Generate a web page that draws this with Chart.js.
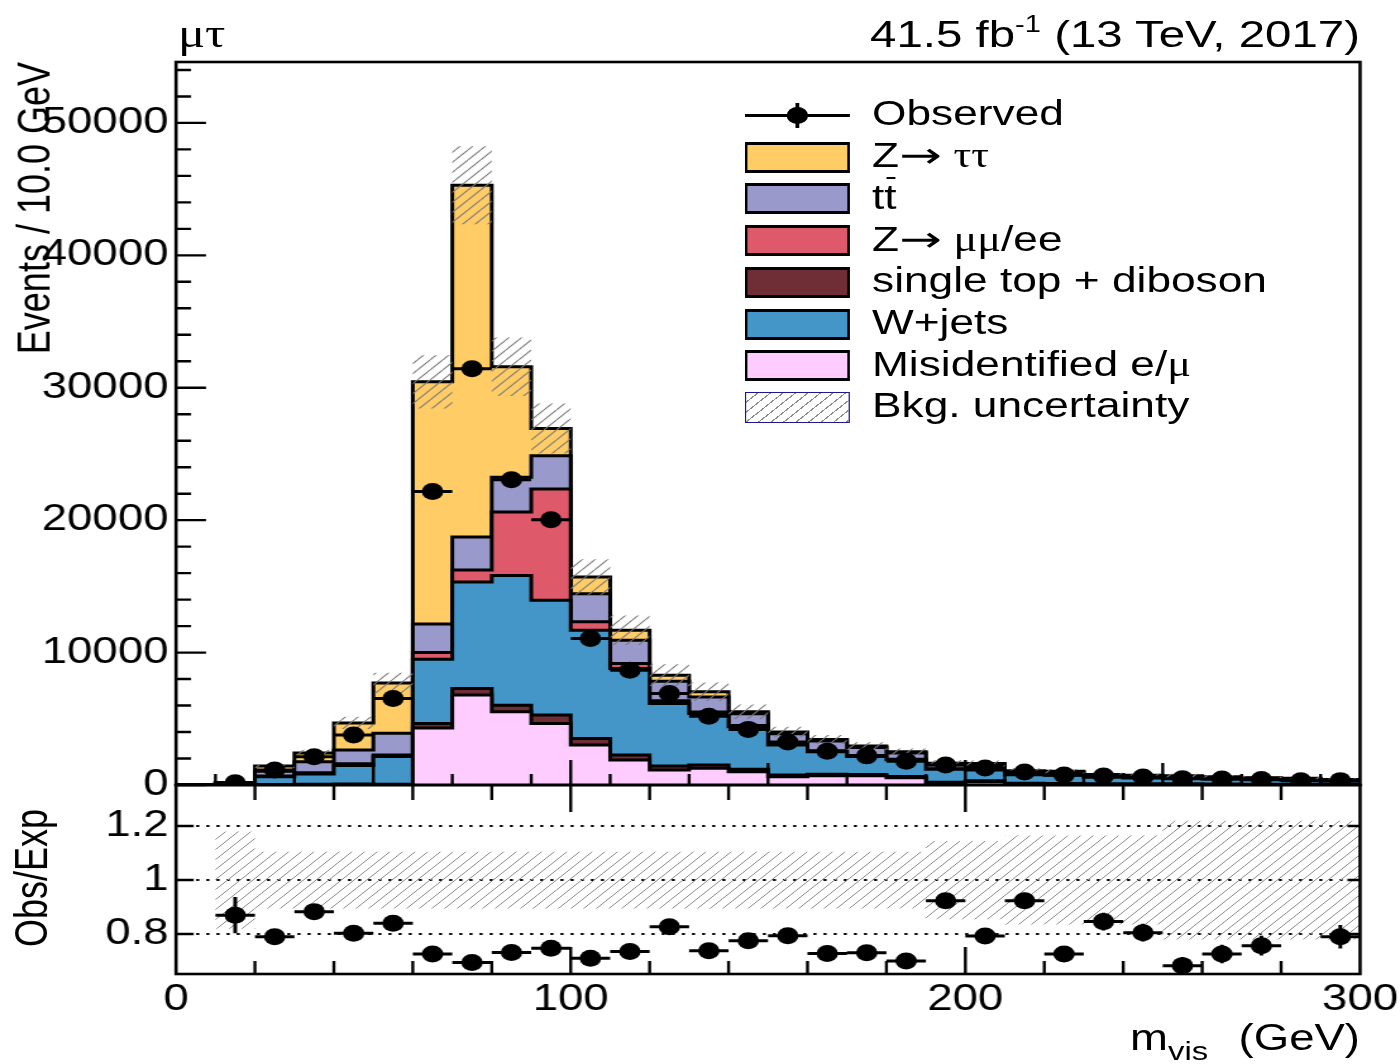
<!DOCTYPE html>
<html>
<head>
<meta charset="utf-8">
<script src="https://cdn.jsdelivr.net/npm/chart.js@4.4.1/dist/chart.umd.min.js"></script>
<style>
html,body{margin:0;padding:0;background:#fff;}
body{width:1400px;height:1064px;overflow:hidden;position:relative;}
#stage{position:absolute;left:0;top:0;width:1107px;height:1064px;transform:scaleX(1.26468);transform-origin:0 0;font-family:"Liberation Sans",Arial,Helvetica,sans-serif;color:#000;}
canvas{position:absolute;left:0;}
.t{position:absolute;white-space:nowrap;line-height:1;font-size:36px;}
.g{font-family:"Liberation Serif","DejaVu Serif",serif;}
.ar{font-family:"DejaVu Sans",sans-serif;display:inline-block;transform:scaleX(1.15);transform-origin:0 50%;margin-right:4px;}
.box{position:absolute;left:589.1px;width:83px;height:31px;box-sizing:border-box;border-style:solid;border-color:#000;border-width:3px 2.6px;}
.lt{position:absolute;left:689.5px;font-size:35px;line-height:1;white-space:nowrap;}
</style>
</head>
<body>
<div id="stage">
  <canvas id="mainC" width="1107" height="830" style="top:0"></canvas>
  <canvas id="ratioC" width="1107" height="294" style="top:770px"></canvas>

  <div class="t g" style="left:140.7px;top:13.5px;font-size:40px;">μτ</div>
  <div class="t" style="left:0;width:1075.4px;text-align:right;top:16.3px;font-size:37.5px;">41.5 fb<span style="font-size:23px;position:relative;top:-15px;">-1</span> (13 TeV, 2017)</div>
  <div class="t" style="left:9px;top:462px;width:400px;text-align:right;transform:rotate(-90deg);transform-origin:0 0;">Events / 10.0 GeV</div>
  <div class="t" style="left:7px;top:1078px;width:400px;text-align:center;transform:rotate(-90deg);transform-origin:0 0;">Obs/Exp</div>
  <div class="t" style="left:0;width:1075.4px;text-align:right;top:1019.5px;">m<span style="font-size:26px;position:relative;top:10px;">vis</span><span style="margin-left:24px;">(GeV)</span></div>

  <!-- legend -->
  <div style="position:absolute;left:589.1px;top:114px;width:83px;height:3px;background:#000;"></div>
  <div style="position:absolute;left:629.4px;top:103px;width:2.4px;height:25px;background:#000;"></div>
  <div style="position:absolute;left:622.1px;top:107px;width:17px;height:17px;border-radius:50%;background:#000;"></div>
  <div class="lt" style="top:95.4px;">Observed</div>

  <div class="box" style="top:141.7px;background:#ffcc66;"></div>
  <div class="lt" style="top:137.1px;">Z<span class="ar">→</span> <span class="g">ττ</span></div>
  <div class="box" style="top:183.4px;background:#9999cc;"></div>
  <div class="lt" style="top:178.8px;">t<span style="position:relative;">t<span style="position:absolute;left:2px;top:0px;width:6.6px;height:2.4px;background:#000;"></span></span></div>
  <div class="box" style="top:225.1px;background:#de5a6a;"></div>
  <div class="lt" style="top:220.5px;">Z<span class="ar">→</span> <span class="g">μμ</span>/ee</div>
  <div class="box" style="top:266.8px;background:#6f2d35;"></div>
  <div class="lt" style="top:262.2px;">single top + diboson</div>
  <div class="box" style="top:308.5px;background:#4496c8;"></div>
  <div class="lt" style="top:303.9px;">W+jets</div>
  <div class="box" style="top:350.2px;background:#ffccff;"></div>
  <div class="lt" style="top:345.6px;">Misidentified e/<span class="g">μ</span></div>
  <div class="box" style="top:391.9px;border-width:1.5px 1.2px;border-color:#1a1a8c;background:repeating-linear-gradient(135deg,transparent 0 6px,#8c8c8c 6px 7px);"></div>
  <div class="lt" style="top:387.3px;">Bkg. uncertainty</div>
</div>

<script>
// ---------------- data ----------------
const binEdges = [0,10,20,30,40,50,60,70,80,90,100,110,120,130,140,150,160,170,180,190,200,210,220,230,240,250,260,270,280,290,300];

const misid   = [0,0,0,0,0,0,4300,6790,5530,4650,3020,1885,1130,1260,1000,630,700,700,550,120,250,60,50,40,40,35,30,25,22,20];
const diboson = [0,10,30,50,80,60,350,500,500,630,500,375,300,250,180,130,120,100,90,80,80,70,70,60,55,50,45,40,36,30];
const wjets   = [0,120,600,780,1400,2100,4850,8040,9800,8670,8170,6540,4730,3890,3220,2260,1690,1360,1260,980,800,650,620,480,440,410,370,335,310,255];
const zll     = [0,10,50,100,120,100,500,900,4780,8410,630,380,200,120,100,80,70,60,50,40,30,20,20,15,15,15,12,10,10,8];
const ttbar   = [0,25,350,830,1050,1650,2150,2500,2640,2510,2130,1760,1480,1130,880,770,750,620,460,300,300,200,190,150,140,130,118,105,95,77];
const ztt     = [0,30,400,660,2040,3790,18300,26570,8340,2050,1260,750,450,390,150,130,110,100,100,120,160,80,80,55,55,50,45,40,37,30];

const observed = [null,170,1130,2135,3770,6540,22170,31440,23050,20030,11060,8670,6910,5200,4200,3250,2550,2200,1800,1510,1280,980,750,680,600,470,450,420,320,330];
const ratioObs = [null,0.870,0.790,0.883,0.803,0.840,0.726,0.695,0.732,0.747,0.710,0.735,0.827,0.738,0.775,0.794,0.728,0.731,0.700,0.923,0.793,0.923,0.726,0.846,0.805,0.683,0.726,0.757,null,0.790];

const mainUnc  = [0,0.18,0.10,0.10,0.10,0.10,0.066,0.065,0.07,0.07,0.085,0.095,0.10,0.10,0.10,0.10,0.10,0.10,0.10,0.145,0.145,0.165,0.165,0.165,0.165,0.22,0.22,0.22,0.22,0.22];
const ratioUnc = [null,0.18,0.105,0.105,0.105,0.105,0.105,0.105,0.105,0.105,0.105,0.105,0.105,0.105,0.105,0.105,0.105,0.105,0.105,0.145,0.145,0.165,0.165,0.165,0.165,0.22,0.22,0.22,0.22,0.22];

const yTicksMain  = [0,10000,20000,30000,40000,50000];
const yTicksRatio = [0.8,1,1.2];
const xTicksRatio = [0,100,200,300];

const layerNames  = ['Misidentified e/μ','single top + diboson','W+jets','Z→ μμ/ee','tt̄','Z→ ττ'];
const layerColors = ['#ffccff','#6f2d35','#4496c8','#de5a6a','#9999cc','#ffcc66'];

// ---------------- helpers ----------------
const layers = [misid, diboson, wjets, zll, ttbar, ztt];
const cum = [];
let run = new Array(misid.length).fill(0);
layers.forEach(l => { run = run.map((v, i) => v + l[i]); cum.push(run); });
const total = cum[cum.length - 1];

const step = vals => binEdges.map((x, i) => ({ x, y: vals[Math.min(i, vals.length - 1)] }));
const centers = binEdges.slice(0, -1).map((e, i) => (e + binEdges[i + 1]) / 2);

function hBars(vals) {
  const d = [];
  vals.forEach((v, i) => { if (v == null) return; d.push({x: binEdges[i], y: v}, {x: binEdges[i+1], y: v}, {x: binEdges[i+1], y: null}); });
  return d;
}
function vBars(vals, errs) {
  const d = [];
  vals.forEach((v, i) => { if (v == null) return; const c = centers[i], e = errs[i]; d.push({x: c, y: v - e}, {x: c, y: v + e}, {x: c, y: null}); });
  return d;
}
function makeHatch(ctx, color, size, lw) {
  const c = document.createElement('canvas'); c.width = size; c.height = size;
  const g = c.getContext('2d'); g.strokeStyle = color; g.lineWidth = lw; g.beginPath();
  for (const o of [-size, 0, size]) { g.moveTo(o, size); g.lineTo(o + size, 0); }
  g.stroke();
  return ctx.createPattern(c, 'repeat');
}
function axesPlugin(specs, dotted) {
  function drawSet(chart, list) {
    const ctx = chart.ctx, ca = chart.chartArea, xs = chart.scales.x, ys = chart.scales.y;
    ctx.save(); ctx.strokeStyle = '#000'; ctx.lineWidth = 2.4; ctx.beginPath();
    for (const s of list) {
      s.values.forEach((v, k) => {
        const L = s.lens[k];
        if (s.side === 'bottom') { const p = xs.getPixelForValue(v); ctx.moveTo(p, ca.bottom); ctx.lineTo(p, ca.bottom - L); }
        if (s.side === 'top') { const p = xs.getPixelForValue(v); ctx.moveTo(p, ca.top); ctx.lineTo(p, ca.top + L); }
        if (s.side === 'left') { const p = ys.getPixelForValue(v); ctx.moveTo(ca.left, p); ctx.lineTo(ca.left + L, p); }
        if (s.side === 'right') { const p = ys.getPixelForValue(v); ctx.moveTo(ca.right, p); ctx.lineTo(ca.right - L, p); }
      });
    }
    ctx.stroke(); ctx.restore();
  }
  return {
    id: 'rootAxes',
    beforeDatasetsDraw(chart) {
      if (dotted) {
        const ctx = chart.ctx, ca = chart.chartArea, ys = chart.scales.y;
        ctx.save(); ctx.strokeStyle = '#000'; ctx.lineWidth = 2; ctx.setLineDash([2.4, 5.6]); ctx.beginPath();
        dotted.forEach(v => { const p = ys.getPixelForValue(v); ctx.moveTo(ca.left, p); ctx.lineTo(ca.right, p); });
        ctx.stroke(); ctx.restore();
      }
      drawSet(chart, specs.under || []);
    },
    afterDatasetsDraw(chart) {
      drawSet(chart, specs.over || []);
      const ctx = chart.ctx, ca = chart.chartArea;
      ctx.save(); ctx.strokeStyle = '#000'; ctx.lineWidth = 2.6;
      ctx.strokeRect(ca.left, ca.top, ca.right - ca.left, ca.bottom - ca.top); ctx.restore();
    }
  };
}
const range = (a, b, s) => { const r = []; for (let v = a; v <= b + 1e-9; v += s) r.push(Math.round(v * 1000) / 1000); return r; };
const fixY = w => s => { s.width = w; s.paddingTop = 0; s.paddingBottom = 0; };
const fixX = h => s => { s.height = h; s.paddingLeft = 0; s.paddingRight = 0; };

Chart.defaults.font.family = '"Liberation Sans", Arial, Helvetica, sans-serif';
Chart.defaults.color = '#000';

// ---------------- main panel ----------------
const mainCtx = document.getElementById('mainC').getContext('2d');
const hatchMain = makeHatch(mainCtx, '#7a7a7a', 10, 1.1);

const mainDatasets = [];
for (let k = cum.length - 1; k >= 0; k--) {
  mainDatasets.push({
    label: layerNames[k], data: step(cum[k]), stepped: true, fill: 'origin',
    backgroundColor: layerColors[k], borderColor: '#000', borderWidth: 3,
    pointRadius: 0, order: 10 + k
  });
}
const upIdx = mainDatasets.length;
mainDatasets.push({ label: 'unc up', data: step(total.map((t, i) => t * (1 + mainUnc[i]))), stepped: true,
  fill: upIdx + 1, backgroundColor: hatchMain, borderWidth: 0, borderColor: 'rgba(0,0,0,0)', pointRadius: 0, order: 5 });
mainDatasets.push({ label: 'unc dn', data: step(total.map((t, i) => t * (1 - mainUnc[i]))), stepped: true,
  fill: false, borderWidth: 0, borderColor: 'rgba(0,0,0,0)', pointRadius: 0, order: 5 });
mainDatasets.push({ label: 'obs xerr', data: hBars(observed), spanGaps: false, borderColor: '#000', borderWidth: 3, pointRadius: 0, fill: false, order: 2 });
mainDatasets.push({ label: 'obs yerr', data: vBars(observed, observed.map(v => v == null ? 0 : Math.sqrt(v))), spanGaps: false, borderColor: '#000', borderWidth: 3, pointRadius: 0, fill: false, order: 2 });
mainDatasets.push({ label: 'Observed', data: observed.map((v, i) => ({x: centers[i], y: v})), showLine: false,
  pointRadius: 8.5, pointBackgroundColor: '#000', pointBorderWidth: 0, order: 1 });

const xMinorMain = range(10, 290, 20).concat([50, 150, 250, 100, 200]);
const xMinorLens = xMinorMain.map(v => v % 100 === 0 ? 25 : (v % 50 === 0 ? 22 : 11));
const yMain = range(0, 54000, 2000);

new Chart(mainCtx, {
  type: 'line',
  data: { datasets: mainDatasets },
  options: {
    responsive: false, animation: false, devicePixelRatio: 1,
    layout: { padding: { left: 0, right: 31.6, top: 62, bottom: 0 } },
    plugins: { legend: { display: false }, tooltip: { enabled: false } },
    scales: {
      x: { type: 'linear', min: 0, max: 300, grid: { display: false, drawTicks: false }, border: { display: false },
           ticks: { display: false }, afterFit: fixX(45) },
      y: { type: 'linear', min: 0, max: 54600, grid: { display: false, drawTicks: false }, border: { display: false },
           afterBuildTicks: s => { s.ticks = yTicksMain.map(v => ({ value: v })); },
           ticks: { font: { size: 36 }, padding: 6, callback: v => String(v) },
           afterFit: fixY(139.17) }
    }
  },
  plugins: [axesPlugin({
    over: [
      { side: 'bottom', values: xMinorMain, lens: xMinorLens },
      { side: 'left', values: yMain, lens: yMain.map(v => v % 10000 === 0 ? 23.7 : 11.9) }
    ]
  }, null)]
});

// ---------------- ratio panel ----------------
const ratioCtx = document.getElementById('ratioC').getContext('2d');
const hatchRatio = makeHatch(ratioCtx, '#8c8c8c', 10, 1.0);
const rx = range(20, 280, 20);
const ratioDatasets = [
  { label: 'band up', data: step(ratioUnc.map(u => u == null ? 1 : 1 + u)), stepped: true, fill: 1,
    backgroundColor: hatchRatio, borderWidth: 0, borderColor: 'rgba(0,0,0,0)', pointRadius: 0, order: 5 },
  { label: 'band dn', data: step(ratioUnc.map(u => u == null ? 1 : 1 - u)), stepped: true, fill: false,
    borderWidth: 0, borderColor: 'rgba(0,0,0,0)', pointRadius: 0, order: 5 },
  { label: 'ratio xerr', data: hBars(ratioObs), spanGaps: false, borderColor: '#000', borderWidth: 3, pointRadius: 0, fill: false, order: 2 },
  { label: 'ratio yerr', data: vBars(ratioObs, ratioObs.map((r, i) => (r == null || observed[i] == null) ? 0 : r / Math.sqrt(observed[i]))),
    spanGaps: false, borderColor: '#000', borderWidth: 3, pointRadius: 0, fill: false, order: 2 },
  { label: 'ratio', data: ratioObs.map((v, i) => ({x: centers[i], y: v})), showLine: false,
    pointRadius: 8.5, pointBackgroundColor: '#000', pointBorderWidth: 0, order: 1 }
];

new Chart(ratioCtx, {
  type: 'line',
  data: { datasets: ratioDatasets },
  options: {
    responsive: false, animation: false, devicePixelRatio: 1,
    layout: { padding: { left: 0, right: 31.6, top: 15, bottom: 0 } },
    plugins: { legend: { display: false }, tooltip: { enabled: false } },
    scales: {
      x: { type: 'linear', min: 0, max: 300, grid: { display: false, drawTicks: false }, border: { display: false },
           afterBuildTicks: s => { s.ticks = xTicksRatio.map(v => ({ value: v })); },
           ticks: { font: { size: 36 }, padding: 4, autoSkip: false, maxRotation: 0, callback: v => String(v) },
           afterFit: fixX(90) },
      y: { type: 'linear', min: 0.652, max: 1.352, grid: { display: false, drawTicks: false }, border: { display: false },
           afterBuildTicks: s => { s.ticks = yTicksRatio.map(v => ({ value: v })); },
           ticks: { font: { size: 36 }, padding: 6, callback: v => (v === 1 ? '1' : v.toFixed(1)) },
           afterFit: fixY(139.17) }
    }
  },
  plugins: [axesPlugin({
    over: [
      { side: 'top', values: rx.concat([100, 200]), lens: rx.map(v => v % 100 === 0 ? 27 : 15).concat([27, 27]) },
      { side: 'bottom', values: rx, lens: rx.map(v => v % 100 === 0 ? 27 : 13) },
      { side: 'left', values: yTicksRatio, lens: yTicksRatio.map(() => 14) },
      { side: 'right', values: yTicksRatio, lens: yTicksRatio.map(() => 10) }
    ]
  }, yTicksRatio)]
});
</script>
</body>
</html>
